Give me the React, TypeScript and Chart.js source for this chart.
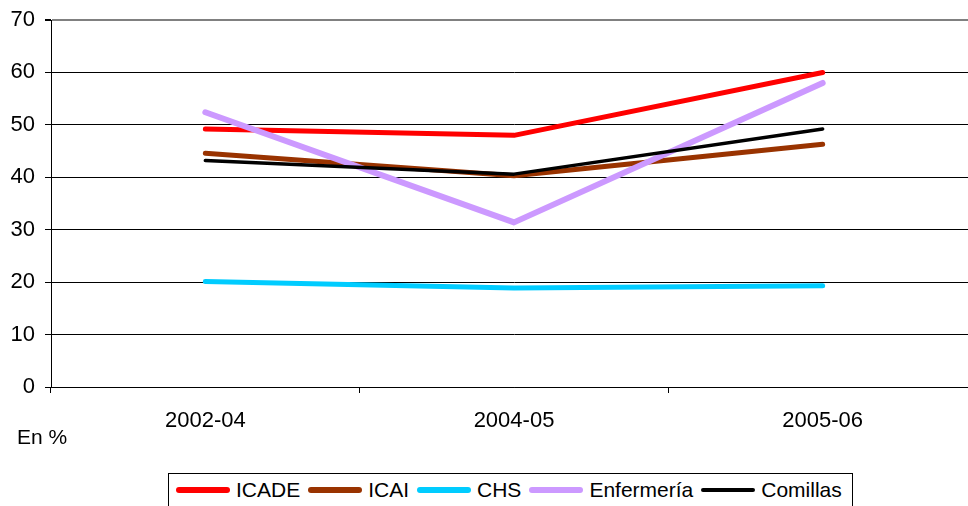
import React, { useEffect, useRef } from "react";
import { Chart, registerables } from "chart.js";

Chart.register(...registerables);

const categories = ["2002-04", "2004-05", "2005-06"];
const seriesNames = ["ICADE", "ICAI", "CHS", "Enfermería", "Comillas"];
const icade = [49.2, 48.0, 60.0];
const icai = [44.6, 40.3, 46.3];
const chs = [20.1, 18.9, 19.3];
const enfermeria = [52.4, 31.4, 58.0];
const comillas = [43.2, 40.6, 49.2];
const yMin = 0;
const yMax = 70;
const yStep = 10;
const unitLabel = "En %";

const seriesValues = [icade, icai, chs, enfermeria, comillas];
const seriesColors = ["#FF0000", "#993300", "#00CCFF", "#CC99FF", "#000000"];
const seriesWidths = [5, 5, 5, 6, 3.5];
const legendWidths = [6, 6, 6, 6, 4];

const FONT = "'Liberation Sans', Arial, sans-serif";

export default function App() {
  const canvasRef = useRef<HTMLCanvasElement | null>(null);

  useEffect(() => {
    if (!canvasRef.current) return;
    const n = seriesNames.length;
    const chart = new Chart(canvasRef.current, {
      type: "line",
      data: {
        labels: categories,
        datasets: seriesNames.map((name, i) => ({
          label: name,
          data: seriesValues[i],
          borderColor: seriesColors[i],
          backgroundColor: seriesColors[i],
          borderWidth: seriesWidths[i],
          borderCapStyle: "round" as const,
          borderJoinStyle: "round" as const,
          pointRadius: 0,
          pointHoverRadius: 0,
          tension: 0,
          fill: false,
          order: n - i,
        })),
      },
      options: {
        responsive: false,
        animation: false,
        events: [],
        layout: { padding: { top: 20, right: 8, bottom: 0, left: 0 } },
        plugins: {
          legend: { display: false },
          tooltip: { enabled: false },
        },
        scales: {
          x: {
            type: "category",
            offset: true,
            grid: {
              offset: true,
              drawOnChartArea: false,
              drawTicks: true,
              tickLength: 6,
              color: "#000",
              tickColor: "#000",
            },
            border: { color: "#000", width: 1 },
            ticks: {
              color: "#000",
              font: { family: FONT, size: 22 },
              padding: 15,
              maxRotation: 0,
              autoSkip: false,
            },
            afterFit: (scale: any) => {
              scale.height = 119;
              scale.paddingLeft = 0;
              scale.paddingRight = 0;
            },
          },
          y: {
            min: yMin,
            max: yMax,
            grid: {
              color: (ctx: any) =>
                ctx.tick && ctx.tick.value === yMax ? "#808080" : "#000",
              lineWidth: (ctx: any) =>
                ctx.tick && ctx.tick.value === yMax ? 2 : 1,
              tickColor: "#000",
              tickLength: 6,
              drawTicks: true,
            },
            border: { color: "#000", width: 1 },
            ticks: {
              stepSize: yStep,
              color: "#000",
              font: { family: FONT, size: 22 },
              padding: 10,
            },
            afterFit: (scale: any) => {
              scale.width = 51;
              scale.paddingTop = 0;
              scale.paddingBottom = 0;
            },
          },
        },
      },
    });
    return () => chart.destroy();
  }, []);

  const count = seriesNames.length;

  return (
    <div
      style={{
        position: "fixed",
        left: 0,
        top: 0,
        width: 968,
        height: 506,
        overflow: "hidden",
        background: "#fff",
        fontFamily: FONT,
      }}
    >
      <canvas ref={canvasRef} width={985} height={506} style={{ display: "block" }} />
      <div
        style={{
          position: "absolute",
          left: 17,
          top: 426,
          fontSize: 21,
          lineHeight: "21px",
          color: "#000",
          whiteSpace: "nowrap",
        }}
      >
        {unitLabel}
      </div>
      <div
        style={{
          position: "absolute",
          left: 168,
          top: 473,
          width: 685,
          height: 45,
          border: "1px solid #000",
          boxSizing: "border-box",
          background: "#fff",
          display: "flex",
          alignItems: "flex-start",
          paddingLeft: 7,
        }}
      >
        {seriesNames.map((name, i) => (
          <div
            key={name}
            style={{
              display: "flex",
              alignItems: "center",
              height: 32,
              marginRight: i < count - 1 ? 8 : 0,
            }}
          >
            <div
              style={{
                width: 54,
                height: legendWidths[i],
                borderRadius: legendWidths[i] / 2,
                background: seriesColors[i],
                marginRight: 6,
              }}
            />
            <span style={{ fontSize: 21, color: "#000", whiteSpace: "nowrap" }}>{name}</span>
          </div>
        ))}
      </div>
    </div>
  );
}
